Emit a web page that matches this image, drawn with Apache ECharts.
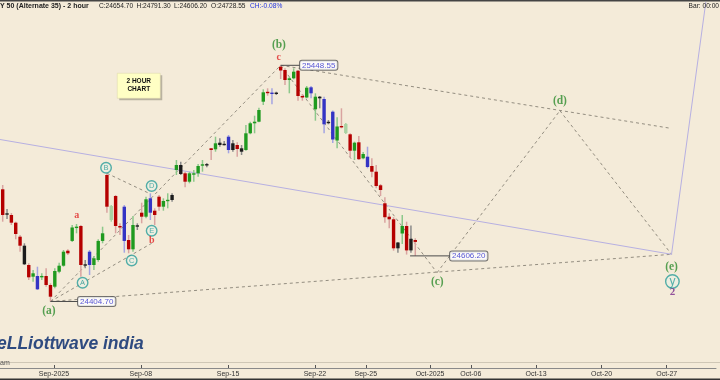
<!DOCTYPE html>
<html><head><meta charset="utf-8">
<script src="https://cdn.jsdelivr.net/npm/echarts@6/dist/echarts.min.js"></script>
<style>html,body{margin:0;padding:0;background:#f4ebd9}#c{width:720px;height:380px}</style>
</head><body><div id="c"></div>
<script>
// ---- candle data (2 hour bars) ----
const opens = [24900.5,24793.5,24786.9,24752.9,24691.0,24651.2,24565.9,24514.2,24517.3,24511.5,
24517.3,24477.5,24470.0,24536.3,24562.8,24629.1,24672.3,24729.4,24738.3,24568.1,
24624.7,24565.9,24588.0,24672.3,24963.7,24764.8,24870.9,24738.3,24823.6,24676.4,
24635.3,24740.5,24797.1,24779.4,24860.7,24805.9,24867.8,24823.6,24848.8,24875.3,
24985.8,25007.9,24971.2,24934.1,24965.0,24971.2,25005.7,25011.0,25081.7,25077.3,
25106.5,25100.7,25133.0,25103.8,25096.3,25081.7,25074.2,25148.0,25192.2,25199.3,
25287.7,25330.6,25327.0,25327.0,25442.4,25427.8,25383.6,25391.1,25424.7,25312.9,
25306.3,25351.3,25254.1,25309.8,25299.6,25198.0,25243.5,25116.2,25179.4,25149.3,
25143.6,25071.1,25108.2,25037.5,25044.6,25003.5,24978.3,24918.2,24838.6,24779.4,
24767.9,24665.3,24705.1,24738.3,24681.7,24676.4];
const closes = [24786.9,24789.1,24752.9,24702.9,24651.2,24569.0,24511.5,24529.2,24458.5,24517.3,
24477.5,24425.8,24539.4,24562.8,24624.7,24617.6,24731.7,24735.2,24565.9,24563.7,
24565.9,24595.5,24672.3,24706.0,24823.6,24826.7,24738.3,24731.7,24672.3,24635.3,
24742.7,24736.1,24779.4,24856.3,24797.1,24786.9,24823.6,24848.8,24853.2,24853.2,
25007.9,24968.1,24934.1,24971.2,24971.2,25003.5,25010.1,25006.6,25074.2,25103.8,
25096.3,25096.3,25074.2,25074.2,25078.6,25066.7,25148.0,25192.2,25199.3,25251.0,
25329.2,25326.1,25322.6,25322.6,25425.6,25383.6,25391.1,25420.3,25312.9,25306.3,
25349.6,25324.8,25309.8,25302.7,25187.8,25193.5,25120.6,25178.1,25175.0,25189.1,
25071.1,25106.5,25033.5,25056.5,24999.1,24978.3,24915.1,24897.4,24777.1,24767.9,
24639.7,24639.7,24738.3,24630.5,24630.5,24667.9];
const lows = [24757.3,24769.2,24742.7,24679.5,24624.7,24565.9,24499.6,24492.1,24455.4,24499.6,
24470.0,24404.7,24462.9,24529.2,24558.4,24610.1,24667.9,24706.0,24514.2,24551.3,
24521.7,24543.8,24580.5,24661.8,24797.1,24757.3,24706.0,24698.5,24620.3,24617.6,
24624.7,24720.6,24750.2,24772.3,24764.8,24742.7,24805.9,24805.9,24816.5,24845.8,
24963.7,24963.7,24909.3,24927.0,24934.1,24956.2,24978.3,24997.7,25030.0,25066.7,
25088.8,25093.8,25059.6,25066.7,25044.6,25052.1,25071.1,25143.6,25148.0,25196.6,
25273.1,25314.2,25276.2,25317.3,25388.0,25361.5,25324.8,25386.7,25292.1,25292.1,
25302.7,25302.7,25203.7,25258.5,25148.0,25187.8,25105.1,25081.7,25170.1,25144.9,
25043.3,25030.0,25030.0,25033.1,24993.3,24953.5,24904.9,24870.9,24752.9,24728.1,
24629.1,24620.3,24658.7,24612.0,24620.3,24606.2];
const highs = [24919.5,24813.4,24795.7,24757.3,24698.5,24661.8,24573.4,24543.8,24558.4,24529.2,
24551.3,24485.0,24551.3,24576.1,24632.2,24635.3,24742.7,24747.1,24742.7,24588.0,
24632.2,24605.7,24679.5,24735.2,24971.2,24831.1,24875.3,24750.2,24831.1,24698.5,
24782.5,24750.2,24841.3,24867.8,24882.8,24816.5,24875.3,24860.7,24882.8,24882.8,
25030.0,25022.5,24978.3,24978.3,24985.8,25012.3,25030.0,25016.7,25083.0,25133.0,
25125.9,25114.0,25140.5,25118.4,25108.2,25096.3,25184.7,25199.3,25225.8,25261.2,
25342.5,25346.9,25346.9,25331.9,25448.55,25435.3,25398.2,25435.3,25427.8,25321.7,
25357.1,25357.1,25324.8,25312.9,25309.8,25206.8,25248.8,25218.7,25258.5,25193.5,
25148.0,25111.1,25136.1,25065.4,25088.8,25037.5,25007.9,24923.9,24865.1,24794.4,
24777.1,24667.9,24786.9,24757.3,24740.5,24683.9];
// candle colour class: r red, g green, b blue, k black, p pale green
const kinds = ['r','k','r','r','r','k','r','g','b','g',
'r','r','g','g','g','r','g','g','r','k',
'b','g','g','g','r','p','r','r','b','r',
'g','k','r','g','b','r','r','g','g','k',
'g','k','r','g','g','g','g','k','r','g',
'k','k','b','k','r','k','g','g','g','g',
'g','r','b','k','r','r','g','g','r','r',
'g','b','g','k','b','k','b','g','r','p',
'r','g','r','g','b','r','r','r','r','r',
'r','k','g','r','k','r'];

// ---- x axis ticks (bar index positions) ----
const xTickPos = [11.8,31.8,51.9,71.9,83.6,98.4,107.8,122.8,137.9,152.9];
const xTickLabels = ['Sep-2025','Sep-08','Sep-15','Sep-22','Sep-25','Oct-2025','Oct-06','Oct-13','Oct-20','Oct-27'];

// dashed trend / wave lines [x1,y1,x2,y2]
const dashedLines = [
  [11,24404.7, 64,25448.55],
  [64,25448.55, 100,24531.9],
  [100,24531.9, 128.3,25247.9],
  [128.3,25247.9, 154,24613.2],
  [11,24404.7, 154,24613.2],
  [64,25448.55, 153.8,25170.1],
  [24,24971.2, 33.7,24882.8],
  [11,24404.7, 34.3,24661.8]
];
const lavenderLines = [
  [-0.62,25120.6, 154,24613.2],
  [154,24613.2, 161.9,25728.4]
];

// labels
const greenLabels = ['(a)','(b)','(c)','(d)','(e)'];
const greenLabelX = [10.66, 63.6, 100.07, 128.3, 154.0];
const greenLabelY = [24362.6, 25538.3, 24492.1, 25292.1, 24558.4];
const redLabels = ['a','b','c'];
const redLabelX = [17.04, 34.3, 63.55];
const redLabelY = [24786.9, 24673.3, 25484.0];
const circleLabels = ['A','B','C','D','E'];
const circleX = [18.4, 23.8, 29.7, 34.3, 34.3];
const circleY = [24487.7, 24996.0, 24585.9, 24915.1, 24717.5];
const priceTags = ['25448.55','24404.70','24606.20'];
const priceTagFromX = [64, 11, 93.8];
const priceTagToX = [68.45, 17.34, 103.0];
const priceTagY = [25448.55, 24404.7, 24606.2];

const PAL = {
  r:{body:'#b50000', wick:'#d9a3a0'},
  g:{body:'#1f9a1f', wick:'#8cc88a'},
  b:{body:'#3434c4', wick:'#a4a4e2'},
  k:{body:'#1c1c1c', wick:'#8a8a8a'},
  p:{body:'#a9d2a2', wick:'#a9d2a2'}
};

const candleData = opens.map((o,i)=>[i,o,closes[i],lows[i],highs[i]]);

const chart = echarts.init(document.getElementById('c'), null, {renderer:'canvas'});

const series = [];
dashedLines.forEach(l=>series.push({
  type:'line', data:[[l[0],l[1]],[l[2],l[3]]], symbol:'none', silent:true, z:2,
  lineStyle:{color:'#938d80', width:1, type:[3,3]}, clip:false
}));
lavenderLines.forEach(l=>series.push({
  type:'line', data:[[l[0],l[1]],[l[2],l[3]]], symbol:'none', silent:true, z:2,
  lineStyle:{color:'#b7b0e2', width:1}, clip:false
}));
series.push({
  type:'custom', z:5, data:candleData, clip:false,
  renderItem:function(params, api){
    const i = api.value(0);
    const o = api.coord([i, api.value(1)]);
    const c = api.coord([i, api.value(2)]);
    const l = api.coord([i, api.value(3)]);
    const h = api.coord([i, api.value(4)]);
    const pal = PAL[kinds[params.dataIndex]];
    const bw = 3.4;
    let top = Math.min(o[1], c[1]);
    let hh = Math.abs(o[1]-c[1]);
    if (hh < 1.4) { top = (o[1]+c[1])/2 - 0.7; hh = 1.4; }
    return {type:'group', children:[
      {type:'rect', shape:{x:h[0]-0.75, y:h[1], width:1.5, height:l[1]-h[1]}, style:{fill:pal.wick}},
      {type:'rect', shape:{x:o[0]-bw/2, y:top, width:bw, height:hh}, style:{fill:pal.body}}
    ]};
  }
});
// price tag connectors
priceTags.forEach((t,i)=>series.push({
  type:'line', data:[[priceTagFromX[i],priceTagY[i]],[priceTagToX[i],priceTagY[i]]],
  symbol:'none', silent:true, z:6, lineStyle:{color:'#4a4a4a', width:1}
}));
// price tags
series.push({
  type:'scatter', symbolSize:0, z:7, silent:true,
  data: priceTags.map((t,i)=>({value:[priceTagToX[i], priceTagY[i]], name:t})),
  label:{show:true, position:'right', distance:0, formatter:p=>p.name,
    fontFamily:'Liberation Sans', fontSize:8, color:'#2a2acc',
    backgroundColor:'#ffffff', borderColor:'#555', borderWidth:1, borderRadius:2, padding:[1,2,0,2]}
});
// green wave labels
series.push({
  type:'scatter', symbolSize:0, z:7, silent:true,
  data: greenLabels.map((t,i)=>({value:[greenLabelX[i], greenLabelY[i]], name:t})),
  label:{show:true, position:'inside', formatter:p=>p.name,
    fontFamily:'Liberation Serif', fontSize:11.5, fontWeight:'bold', color:'#2e8c2e'}
});
// red labels
series.push({
  type:'scatter', symbolSize:0, z:7, silent:true,
  data: redLabels.map((t,i)=>({value:[redLabelX[i], redLabelY[i]], name:t})),
  label:{show:true, position:'inside', formatter:p=>p.name,
    fontFamily:'Liberation Serif', fontSize:10, fontWeight:'bold', color:'#e02424'}
});
// circled labels
series.push({
  type:'scatter', symbol:'circle', symbolSize:10.5, z:7, silent:true,
  data: circleLabels.map((t,i)=>({value:[circleX[i], circleY[i]], name:t})),
  itemStyle:{color:'rgba(230,240,232,0.6)', borderColor:'#2a9e9a', borderWidth:1.4},
  label:{show:true, position:'inside', formatter:p=>p.name,
    fontFamily:'Liberation Sans', fontSize:7.5, color:'#2a9e9a'}
});
// (y) and 2
series.push({
  type:'scatter', symbol:'circle', symbolSize:13.5, z:7, silent:true,
  data:[{value:[154.2, 24492.9], name:'y'}],
  itemStyle:{color:'rgba(230,240,232,0.6)', borderColor:'#2a9e9a', borderWidth:1.4},
  label:{show:true, position:'inside', formatter:p=>p.name,
    fontFamily:'Liberation Sans', fontSize:12, color:'#2a9e9a'}
});
series.push({
  type:'scatter', symbolSize:0, z:7, silent:true,
  data:[{value:[154.2, 24444.3], name:'2'}],
  label:{show:true, position:'inside', formatter:p=>p.name,
    fontFamily:'Liberation Serif', fontSize:11, fontWeight:'bold', color:'#7a2a8c'}
});

chart.setOption({
  backgroundColor:'#f4ebd9',
  animation:false,
  grid:{left:0, right:4, top:0, height:362},
  xAxis:{type:'value', min:-0.62, max:164.24, offset:6,
    axisLine:{show:true, lineStyle:{color:'#8a8a8a', width:1}},
    axisTick:{show:true, customValues:xTickPos, length:3, inside:true, lineStyle:{color:'#555'}},
    axisLabel:{show:true, customValues:xTickPos, margin:3, fontSize:7, color:'#333',
      fontFamily:'Liberation Sans',
      formatter:function(v){ for (let i=0;i<xTickPos.length;i++){ if (Math.abs(xTickPos[i]-v)<0.01) return xTickLabels[i]; } return ''; }},
    splitLine:{show:false}
  },
  yAxis:{type:'value', min:24137.16, max:25737.2, show:false, splitLine:{show:false}},
  series:series,
  graphic:[
    {type:'rect', left:0, top:0, shape:{width:720, height:1.5}, style:{fill:'#444'}, z:10},
    {type:'rect', left:0, top:378.5, shape:{width:720, height:1.5}, style:{fill:'#333'}, z:10},
    {type:'line', shape:{x1:0,y1:362.5,x2:720,y2:362.5}, style:{stroke:'#cfc7b6', lineWidth:1}, z:1},
    {type:'text', left:0, top:2.2, style:{text:'Y 50 (Alternate 35) - 2 hour', font:'bold 7px "Liberation Sans"', fill:'#222'}, z:10},
    {type:'text', left:99, top:2.5, style:{text:'C:24654.70', font:'6.6px "Liberation Sans"', fill:'#222'}, z:10},
    {type:'text', left:136.5, top:2.5, style:{text:'H:24791.30', font:'6.6px "Liberation Sans"', fill:'#222'}, z:10},
    {type:'text', left:174, top:2.5, style:{text:'L:24606.20', font:'6.6px "Liberation Sans"', fill:'#222'}, z:10},
    {type:'text', left:211, top:2.5, style:{text:'O:24728.55', font:'6.6px "Liberation Sans"', fill:'#222'}, z:10},
    {type:'text', left:250, top:2.5, style:{text:'CH:-0.08%', font:'6.6px "Liberation Sans"', fill:'#2233dd'}, z:10},
    {type:'text', right:1, top:2.5, style:{text:'Bar: 00:00', font:'6.6px "Liberation Sans"', fill:'#222'}, z:10},
    {type:'text', left:0, top:360, style:{text:'am', font:'7px "Liberation Sans"', fill:'#555'}, z:10},
    {type:'text', left:-3, top:335.5, style:{text:'eLLiottwave india', font:'italic bold 17.5px "Liberation Sans"', fill:'#2f4b80'}, z:10},
    {type:'group', left:117, top:73, z:10, children:[
      {type:'rect', shape:{x:2, y:2, width:43, height:25}, style:{fill:'#b9b2a0'}},
      {type:'rect', shape:{x:0, y:0, width:43, height:25}, style:{fill:'#ffffc4', stroke:'#d8d4a8', lineWidth:0.5}},
      {type:'text', x:21.5, y:7.5, style:{text:'2 HOUR', font:'bold 6.5px "Liberation Sans"', fill:'#111', align:'center', verticalAlign:'middle'}},
      {type:'text', x:21.5, y:16, style:{text:'CHART', font:'bold 6.5px "Liberation Sans"', fill:'#111', align:'center', verticalAlign:'middle'}}
    ]}
  ]
});
</script></body></html>
